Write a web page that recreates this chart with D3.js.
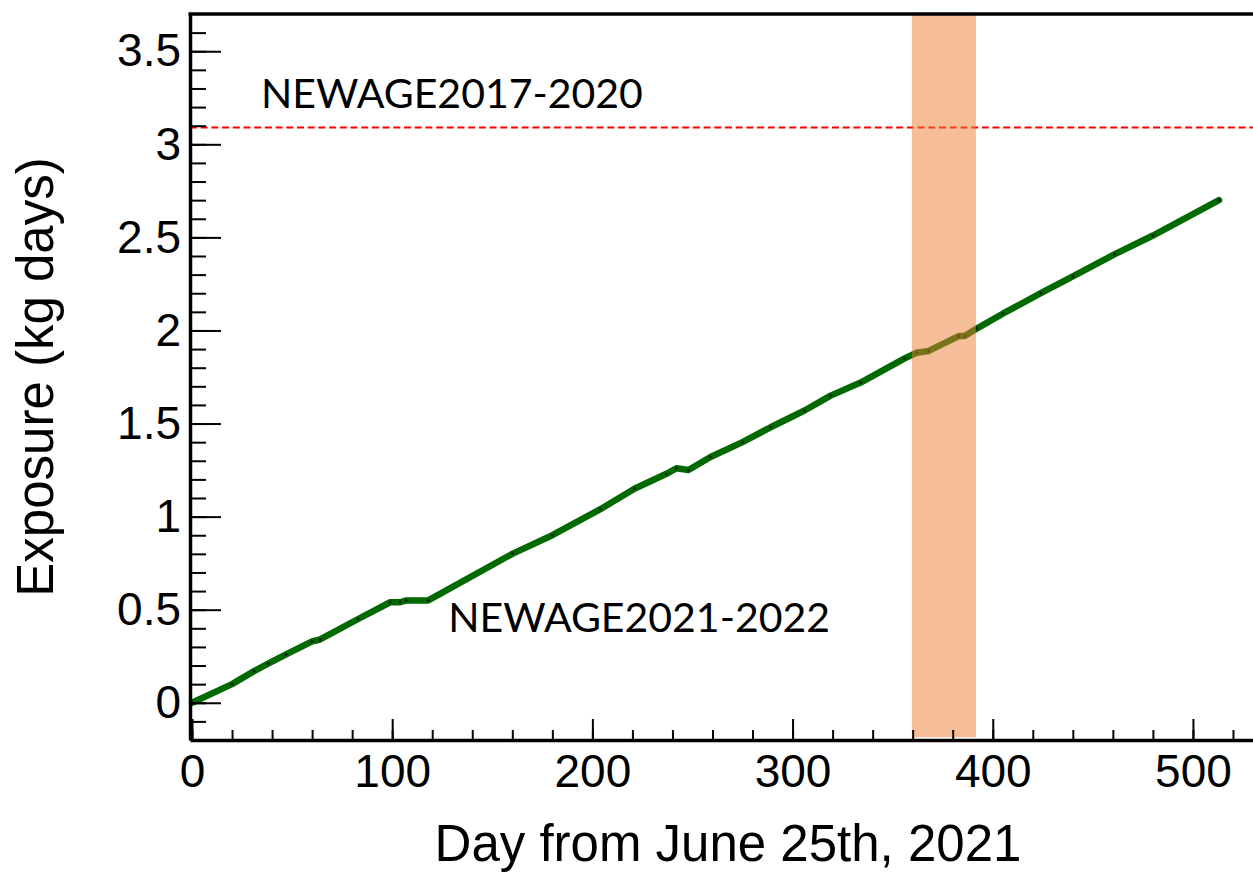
<!DOCTYPE html>
<html>
<head>
<meta charset="utf-8">
<script src="https://cdn.jsdelivr.net/npm/d3@7"></script>
<style>
  body { margin: 0; background: #fff; }
  svg { display: block; }
  .tick-label { font-family: "Liberation Sans", Arial, sans-serif; }
</style>
</head>
<body>
<div id="chart"></div>
<script>
// exposure accumulated per day
const days = [0, 20, 31, 38, 47, 60, 64, 83, 99, 104, 107, 118, 160, 180, 204, 221, 237, 242, 248, 259,
    275, 289, 306, 319, 334, 356, 362, 368, 383, 386, 392, 405, 424, 440, 461, 480, 513];
const exposure = [0, 0.10, 0.17, 0.21, 0.26, 0.33, 0.34, 0.45, 0.54, 0.54, 0.55, 0.55, 0.80, 0.90, 1.04, 1.15, 1.23, 1.26, 1.25, 1.32,
    1.40, 1.48, 1.57, 1.65, 1.72, 1.85, 1.88, 1.89, 1.97, 1.97, 2.01, 2.09, 2.20, 2.29, 2.41, 2.51, 2.70];

const previousExposure = 3.09;      // NEWAGE2017-2020 level
const band = [359.6, 391.6];         // shaded period (days)

const xMajor = [0, 100, 200, 300, 400, 500];
const yMajor = [0, 0.5, 1, 1.5, 2, 2.5, 3, 3.5];
const yLabels = ["0", "0.5", "1", "1.5", "2", "2.5", "3", "3.5"];

const width = 1253;
const height = 874;
const margin = {top: 14, right: 0, bottom: 134, left: 190};

const svg = d3.select("#chart")
    .append("svg")
    .attr("width", width)
    .attr("height", height);

//scales, x slightly offset so 0 sits just right of the frame
const xScale = d3.scaleLinear()
    .domain([-1, 530])
    .range([margin.left, width]);

const yScale = d3.scaleLinear()
    .domain([-0.2, 3.7])
    .range([height - margin.bottom, margin.top]);

const data = days.map((d, i) => ({day: d, exp: exposure[i]}));

// dashed reference level
svg.append("line")
    .attr("x1", xScale(-1))
    .attr("x2", width)
    .attr("y1", yScale(previousExposure))
    .attr("y2", yScale(previousExposure))
    .attr("stroke", "#ff0000")
    .attr("stroke-width", 2)
    .attr("stroke-dasharray", "7 3.7");

// exposure curve
const lineGen = d3.line()
    .x(d => xScale(d.day))
    .y(d => yScale(d.exp));

svg.append("path")
    .datum(data)
    .attr("d", lineGen)
    .attr("fill", "none")
    .attr("stroke", "#006a00")
    .attr("stroke-width", 6.5)
    .attr("stroke-linejoin", "round")
    .attr("stroke-linecap", "round");

svg.selectAll(".pt")
    .data(data)
    .join("circle")
    .attr("class", "pt")
    .attr("cx", d => xScale(d.day))
    .attr("cy", d => yScale(d.exp))
    .attr("r", 1.4)
    .attr("fill", "#111");

// shaded band on top, semi transparent
svg.append("rect")
    .attr("x", xScale(band[0]))
    .attr("width", xScale(band[1]) - xScale(band[0]))
    .attr("y", yScale(3.7))
    .attr("height", yScale(-0.185) - yScale(3.7))
    .attr("fill", "#ED7D31")
    .attr("opacity", 0.5);

// axes
const xMinorAxis = d3.axisBottom(xScale)
    .tickValues(d3.range(0, 531, 20))
    .tickSize(-10)
    .tickFormat("");

const xAxis = d3.axisBottom(xScale)
    .tickValues(xMajor)
    .tickSize(-21)
    .tickSizeOuter(0)
    .tickPadding(14);

const yMinorAxis = d3.axisLeft(yScale)
    .tickValues(d3.range(-1, 37).map(d => d / 10))
    .tickSize(-16)
    .tickFormat("");

const yAxis = d3.axisLeft(yScale)
    .tickValues(yMajor)
    .tickSize(-31)
    .tickSizeOuter(0)
    .tickPadding(9)
    .tickFormat((d, i) => yLabels[i]);

const gxm = svg.append("g")
    .attr("transform", `translate(0, ${height - margin.bottom})`)
    .call(xMinorAxis);
gxm.select(".domain").remove();

const gx = svg.append("g")
    .attr("transform", `translate(0, ${height - margin.bottom})`)
    .call(xAxis);

const gym = svg.append("g")
    .attr("transform", `translate(${margin.left}, 0)`)
    .call(yMinorAxis);
gym.select(".domain").remove();

const gy = svg.append("g")
    .attr("transform", `translate(${margin.left}, 0)`)
    .call(yAxis);

svg.selectAll(".tick line").attr("stroke", "#000").attr("stroke-width", 2);
[gx, gy].forEach(g => g.select(".domain").attr("stroke", "#000").attr("stroke-width", 3.5));
svg.selectAll(".tick text")
    .attr("class", "tick-label")
    .attr("font-size", 46)
    .attr("fill", "#000");

// top frame
svg.append("line")
    .attr("x1", margin.left - 1.5)
    .attr("x2", width)
    .attr("y1", margin.top)
    .attr("y2", margin.top)
    .attr("stroke", "#000")
    .attr("stroke-width", 3.5);

// axis titles
svg.append("text")
    .attr("transform", `translate(53, ${(yScale(3.7) + yScale(-0.2)) / 2}) rotate(-90)`)
    .attr("text-anchor", "middle")
    .attr("font-family", "Liberation Sans, Arial, sans-serif")
    .attr("font-size", 51)
    .text("Exposure (kg days)");

svg.append("text")
    .attr("x", 728)
    .attr("y", 861)
    .attr("text-anchor", "middle")
    .attr("font-family", "Liberation Sans, Arial, sans-serif")
    .attr("font-size", 51)
    .text("Day from June 25th, 2021");

// dataset labels
svg.append("text")
    .attr("x", xScale(34.5))
    .attr("y", yScale(3.195))
    .attr("font-family", "Lato, sans-serif")
    .attr("font-size", 41)
    .text("NEWAGE2017-2020");

svg.append("text")
    .attr("x", xScale(128))
    .attr("y", yScale(0.38))
    .attr("font-family", "Lato, sans-serif")
    .attr("font-size", 41)
    .text("NEWAGE2021-2022");
</script>
</body>
</html>
